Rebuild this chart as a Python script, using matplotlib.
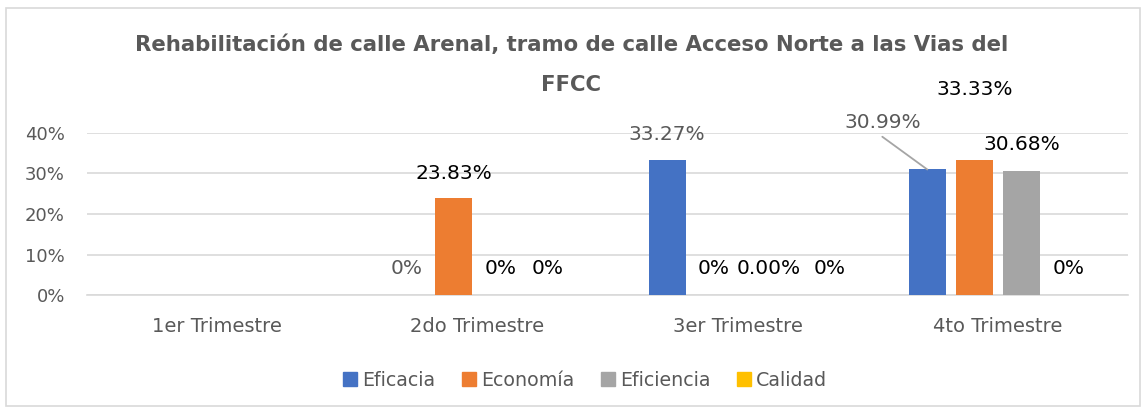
import numpy as np
import matplotlib.pyplot as plt
from matplotlib.patches import Patch, Rectangle

plt.rcParams['font.family'] = ['DejaVu Sans']

trimestres = ['1er Trimestre', '2do Trimestre', '3er Trimestre', '4to Trimestre']
series = ['Eficacia', 'Economía', 'Eficiencia', 'Calidad']
eficacia = [None, 0.0, 33.27, 30.99]
economia = [None, 23.83, 0.0, 33.33]
eficiencia = [None, 0.0, 0.0, 30.68]
calidad = [None, 0.0, 0.0, 0.0]
etiquetas = [
    [None, '0%', '33.27%', '30.99%'],
    [None, '23.83%', '0%', '33.33%'],
    [None, '0%', '0.00%', '30.68%'],
    [None, '0%', '0%', '0%'],
]

colores = ['#4472C4', '#ED7D31', '#A5A5A5', '#FFC000']
col_etq = ['#595959', 'black', 'black', 'black']
# desplazamiento de etiquetas en pixeles (como las dejo Excel)
despl = [
    [None, (0, 27), (0, 26), (-45, 47)],
    [None, (0, 25), (0, 27), (0, 71)],
    [None, (0, 27), (8, 27), (0, 26)],
    [None, (0, 27), (21, 27), (0, 27)],
]

valores = [eficacia, economia, eficiencia, calidad]

fig = plt.figure(figsize=(11.46, 4.11), dpi=100)
ax = fig.add_axes([87/1146, 1-295/411, (1128-87)/1146, (295-133)/411])

x = np.arange(len(trimestres))
paso = 47/260
ancho = 37/260
for i in range(len(series)):
    pos = x + (i - 1.5) * paso
    h = [v if v is not None else 0 for v in valores[i]]
    ax.bar(pos, h, ancho, color=colores[i], label=series[i], zorder=3)
    for j in range(len(trimestres)):
        if valores[i][j] is None:
            continue
        dx, dy = despl[i][j]
        if i == 0 and j == 3:
            ax.annotate(etiquetas[i][j], (pos[j], valores[i][j]), xytext=(dx, dy),
                        textcoords='offset pixels', ha='center', va='center',
                        fontsize=14.5, color=col_etq[i],
                        arrowprops=dict(arrowstyle='-', color='#A5A5A5', lw=1.3,
                                        relpos=(0.5, -0.25), shrinkA=0, shrinkB=0))
        else:
            ax.annotate(etiquetas[i][j], (pos[j], valores[i][j]), xytext=(dx, dy),
                        textcoords='offset pixels', ha='center', va='center',
                        fontsize=14.5, color=col_etq[i])

ax.set_xlim(-0.5, 3.5)
ax.set_ylim(0, 40)
ax.set_yticks([0, 10, 20, 30, 40])
ax.set_yticklabels(['0%', '10%', '20%', '30%', '40%'])
ax.set_xticks(x)
ax.set_xticklabels(trimestres)
ax.grid(axis='y', color='#D9D9D9', lw=1.2, zorder=0)
for s in ['top', 'right', 'left']:
    ax.spines[s].set_visible(False)
ax.spines['bottom'].set_color('#D9D9D9')
ax.spines['bottom'].set_linewidth(1.2)
ax.tick_params(length=0, labelcolor='#595959')
ax.tick_params(axis='y', pad=16, labelsize=13)
ax.tick_params(axis='x', pad=16, labelsize=14)

fig.text(0.4985, 1-45/411, 'Rehabilitación de calle Arenal, tramo de calle Acceso Norte a las Vias del',
         ha='center', va='center', fontsize=15.3, fontweight='bold', color='#595959')
fig.text(0.4985, 1-85/411, 'FFCC', ha='center', va='center',
         fontsize=15.3, fontweight='bold', color='#595959')

handles = [Patch(color=c) for c in colores]
fig.legend(handles, series, loc='center', bbox_to_anchor=(585/1146, 1-380/411), ncol=4,
           frameon=False, fontsize=13.7, handlelength=0.75, handleheight=0.7,
           handletextpad=0.27, columnspacing=1.38, labelcolor='#595959')

fig.patches.append(Rectangle((6/1146, 1-406/411), 1134/1146, 398/411,
                             transform=fig.transFigure, fill=False,
                             edgecolor='#D9D9D9', lw=1.2))

fig.savefig('out.png', dpi=100)
